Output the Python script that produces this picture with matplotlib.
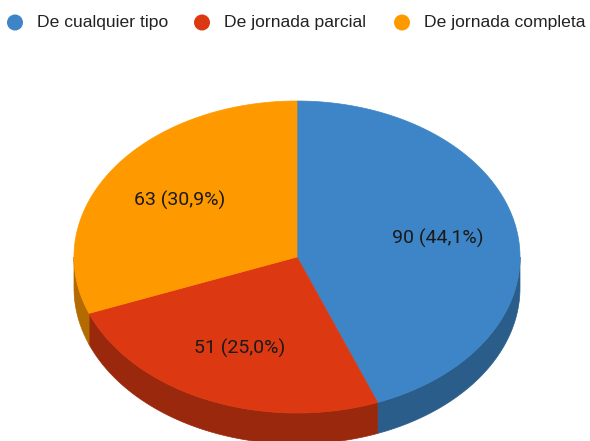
import numpy as np
import matplotlib
matplotlib.use('Agg')
import matplotlib.pyplot as plt
from matplotlib.patches import Polygon, Circle

# datos del grafico
categorias = ['De cualquier tipo', 'De jornada parcial', 'De jornada completa']
valores = [90, 51, 63]
colores = ['#3d85c6', '#dc3912', '#ff9900']
colores_lado = ['#2b5d8b', '#9a280d', '#b36b00']

W, H = 590, 441
fig = plt.figure(figsize=(W / 100, H / 100), dpi=100)
ax = fig.add_axes([0, 0, 1, 1])
ax.set_xlim(0, W)
ax.set_ylim(H, 0)
ax.axis('off')

# geometria del pastel 3D (pixeles)
cx, cy, rx, ry, prof = 297, 257, 223, 156, 31


def punto(t):
    t = np.radians(t)
    return cx + rx * np.sin(t), cy - ry * np.cos(t)


total = sum(valores)
angulos = np.concatenate([[0], np.cumsum(valores) / total * 360])

# paredes laterales (solo la mitad frontal se ve)
for i in range(len(valores)):
    a0, a1 = max(angulos[i], 90), min(angulos[i + 1], 270)
    if a1 <= a0:
        continue
    t = np.linspace(a0, a1, 100)
    xs, ys = punto(t)
    pts = list(zip(xs, ys)) + list(zip(xs[::-1], ys[::-1] + prof))
    ax.add_patch(Polygon(pts, closed=True, fc=colores_lado[i], ec=colores_lado[i], lw=0.5))

# caras superiores
for i in range(len(valores)):
    t = np.linspace(angulos[i], angulos[i + 1], 200)
    xs, ys = punto(t)
    pts = [(cx, cy)] + list(zip(xs, ys))
    ax.add_patch(Polygon(pts, closed=True, fc=colores[i], ec=colores[i], lw=0.5))
    mid = (angulos[i] + angulos[i + 1]) / 2
    mx, my = cx + 0.64 * rx * np.sin(np.radians(mid)), cy - 0.64 * ry * np.cos(np.radians(mid))
    pct = f'{valores[i] / total * 100:.1f}'.replace('.', ',')
    ax.text(mx, my, f'{valores[i]} ({pct}%)', ha='center', va='center',
            fontsize=14, family='Roboto', color='#1a1a1a')

# leyenda
ley_x = [15, 202, 402]
for i, nombre in enumerate(categorias):
    ax.add_patch(Circle((ley_x[i], 22.5), 8, fc=colores[i], ec='none'))
    ax.text(ley_x[i] + 22, 22.5, nombre, ha='left', va='center',
            fontsize=12.6, family='Liberation Sans', color='#222222')

fig.savefig('out.png', dpi=100)
